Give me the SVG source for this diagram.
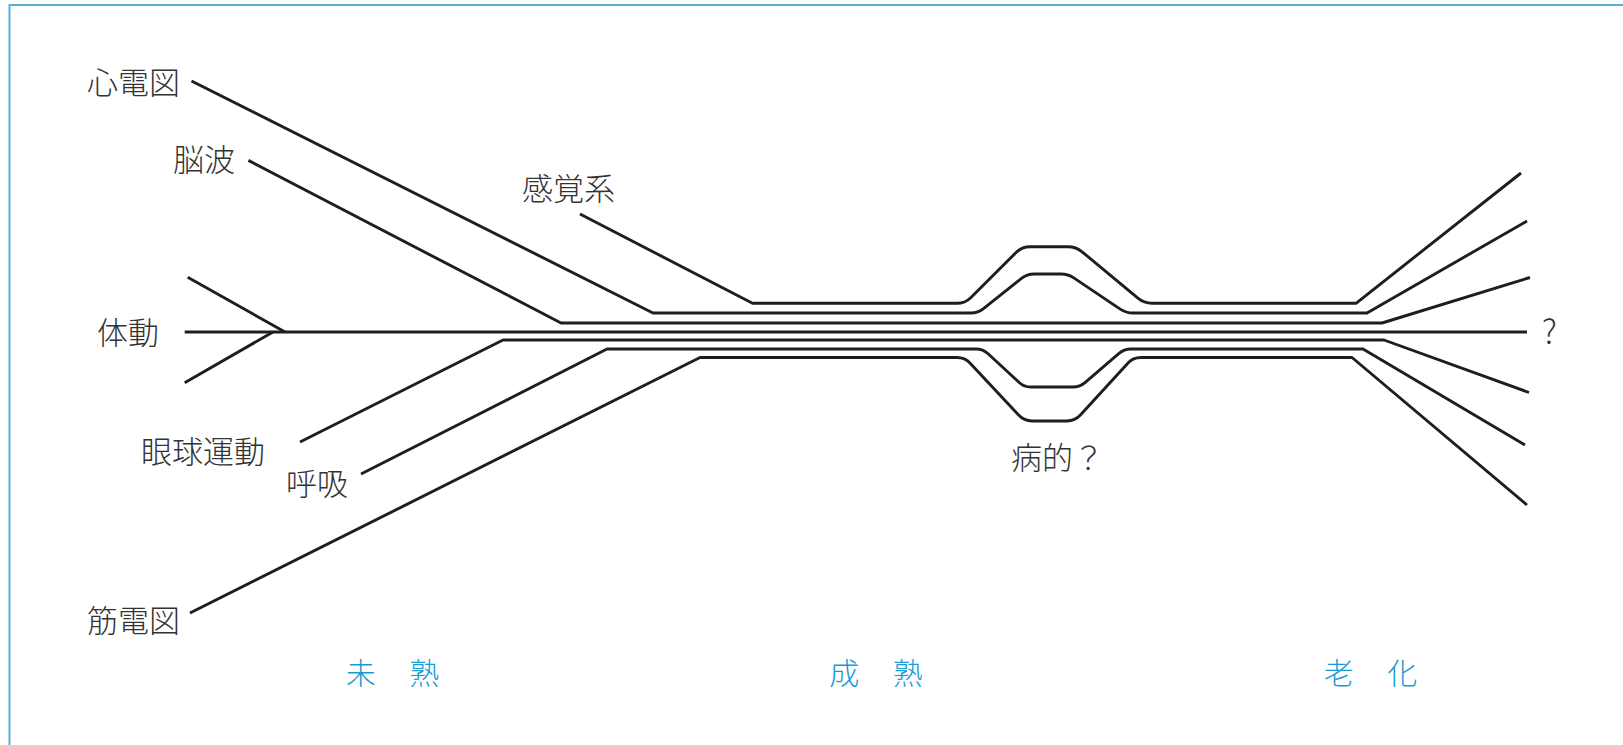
<svg xmlns="http://www.w3.org/2000/svg" width="1623" height="745" viewBox="0 0 1623 745">
<style>
  .lbl { font-family: "Noto Sans CJK JP", "Noto Sans", sans-serif; font-size: 31px; fill: #333; font-weight: 300; }
  .stage { font-family: "Noto Sans CJK JP", "Noto Sans", sans-serif; font-size: 30px; fill: #1b9bd5; font-weight: 300; text-anchor: middle; word-spacing: 27px; }
  .ln { fill: none; stroke: #1e1e1e; stroke-width: 2.9; stroke-linejoin: round; stroke-linecap: butt; }
  .frame { fill: none; stroke: #5aaed6; stroke-width: 2; }
</style>
<rect x="0" y="0" width="1623" height="745" fill="#ffffff"/>
<path class="frame" d="M 9.5,745 L 9.5,5 L 1623,5"/>
<g id="connectors">
  <path class="ln" d="M 580,214 L 752.5,303.3 L 957,303.3 Q 965,303.3 970.7,297.7 L 1016.3,252.3 Q 1022,246.7 1030,246.7 L 1068,246.7 Q 1076,246.7 1082.1,251.8 L 1137.9,298.2 Q 1144,303.3 1152,303.3 L 1356,303.3 L 1521,173"/>
  <path class="ln" d="M 191.5,81 L 653,313 L 971,313 Q 978,313 983.5,308.6 L 1021.5,278.4 Q 1027,274 1034,274 L 1061,274 Q 1068,274 1073.8,277.9 L 1120.2,309.1 Q 1126,313 1133,313 L 1367,313 L 1527,221"/>
  <path class="ln" d="M 248.4,160.4 L 561,323 L 1382,323 L 1530,277.5"/>
  <path class="ln" d="M 184.7,332 L 1527,332"/>
  <path class="ln" d="M 187.7,277.3 L 285,332"/>
  <path class="ln" d="M 184.7,382.7 L 273,332"/>
  <path class="ln" d="M 300,442 L 503,340 L 1384,340 L 1529,392.5"/>
  <path class="ln" d="M 361,474 L 607,349 L 976,349 Q 983,349 988.1,353.8 L 1018.9,382.2 Q 1024,387 1031,387 L 1073,387 Q 1080,387 1085.3,382.4 L 1118.7,353.6 Q 1124,349 1131,349 L 1363,349 L 1525,445"/>
  <path class="ln" d="M 190,613 L 700,357.5 L 957,357.5 Q 965,357.5 970.4,363.4 L 1018.6,415.1 Q 1024,421 1032,421 L 1067,421 Q 1075,421 1080.4,415.1 L 1127.6,363.4 Q 1133,357.5 1141,357.5 L 1352,357.5 L 1527,505"/>
</g>
<g id="node-shindenzu"><text class="lbl" x="87" y="94">心電図</text></g>
<g id="node-nouha"><text class="lbl" x="173" y="171">脳波</text></g>
<g id="node-kankakukei"><text class="lbl" x="522" y="200">感覚系</text></g>
<g id="node-taidou"><text class="lbl" x="97" y="344">体動</text></g>
<g id="node-gankyuundou"><text class="lbl" x="141" y="463">眼球運動</text></g>
<g id="node-kokyuu"><text class="lbl" x="286" y="495">呼吸</text></g>
<g id="node-kindenzu"><text class="lbl" x="87" y="632">筋電図</text></g>
<g id="node-byouteki"><text class="lbl" x="1011" y="469">病的？</text></g>
<g id="node-question"><text class="lbl" x="1542" y="344" style="font-size:33px">?</text></g>
<g id="stage-mijuku"><text class="stage" x="392.5" y="684" xml:space="preserve">未 熟</text></g>
<g id="stage-seijuku"><text class="stage" x="876" y="684" xml:space="preserve">成 熟</text></g>
<g id="stage-rouka"><text class="stage" x="1370.5" y="684" xml:space="preserve">老 化</text></g>
</svg>
